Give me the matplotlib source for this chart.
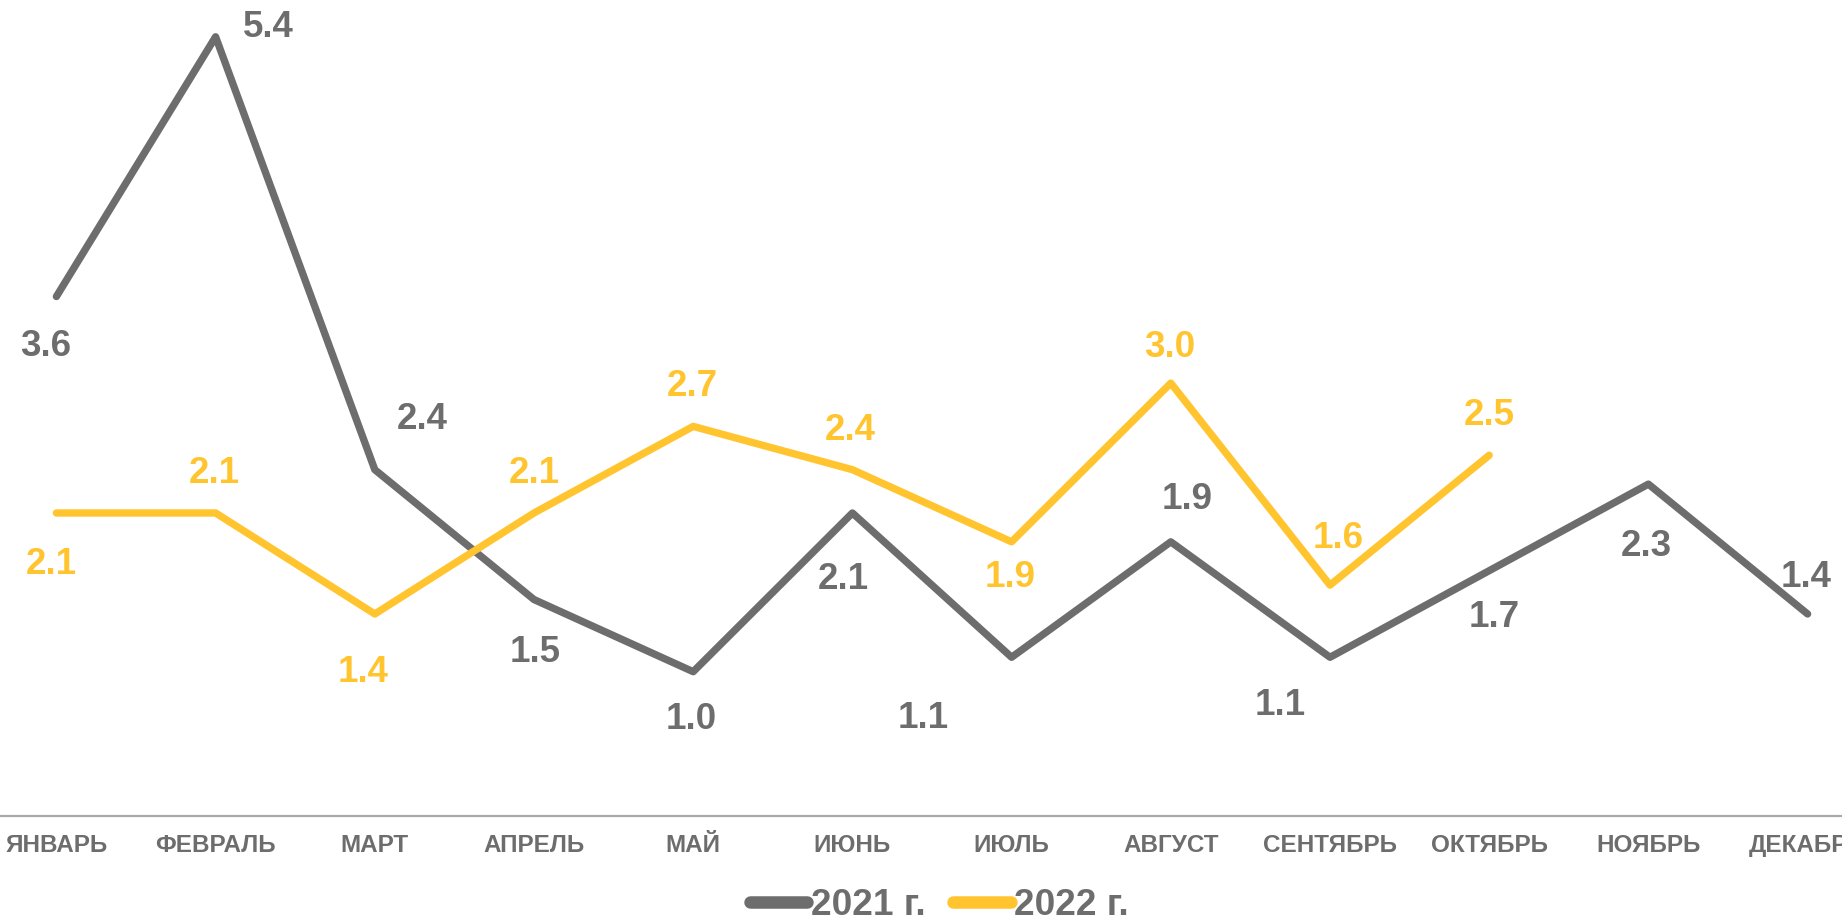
import numpy as np
import matplotlib
matplotlib.use("Agg")
import matplotlib.pyplot as plt
from matplotlib import font_manager

months = ["ЯНВАРЬ", "ФЕВРАЛЬ", "МАРТ", "АПРЕЛЬ", "МАЙ", "ИЮНЬ", "ИЮЛЬ",
          "АВГУСТ", "СЕНТЯБРЬ", "ОКТЯБРЬ", "НОЯБРЬ", "ДЕКАБРЬ"]
values_2021 = [3.6, 5.4, 2.4, 1.5, 1.0, 2.1, 1.1, 1.9, 1.1, 1.7, 2.3, 1.4]
values_2022 = [2.1, 2.1, 1.4, 2.1, 2.7, 2.4, 1.9, 3.0, 1.6, 2.5]
series_names = ["2021 г.", "2022 г."]

# label offsets in pixels (dx, dy)
off_2021 = [(-11, -50), (53, 9), (47, 50), (1, -53), (-2, -48), (-9, -67),
            (-88, -61), (16, 42), (-50, -48), (5, -47), (-2, -62), (-1, 36)]
off_2022 = [(-5, -52), (-1, 39), (-12, -59), (0, 39), (-1, 40), (-2, 39),
            (-1, -36), (-1, 36), (8, 47), (0, 40)]

GRAY = "#6D6D6D"
YELLOW = "#FFC42E"
AXIS = "#A9A9A9"

avail = {f.name for f in font_manager.fontManager.ttflist}
narrow = "Liberation Sans Narrow" if "Liberation Sans Narrow" in avail else "Liberation Sans"
narrow_scale = 1.0 if narrow == "Liberation Sans Narrow" else 0.92

plt.rcParams["font.family"] = ["Liberation Sans", "DejaVu Sans"]

W, H = 1842, 922
fig = plt.figure(figsize=(W / 100, H / 100), dpi=100)

unit = 144.3          # px per value unit
step = 159.2          # px per category
x0_px = 56.4          # center of first category
axis_y = 816          # px from top
ymax = 6.0
left = (x0_px - step / 2) / W
width = 12 * step / W
bottom = (H - axis_y) / H
height = ymax * unit / H
ax = fig.add_axes([left, bottom, width, height])
ax.set_xlim(-0.5, 11.5)
ax.set_ylim(0, ymax)

x = np.arange(len(months))
ax.plot(x, values_2021, color=GRAY, lw=5.3, solid_capstyle="round",
        solid_joinstyle="round", label=series_names[0], zorder=3)
ax.plot(x[:len(values_2022)], values_2022, color=YELLOW, lw=5.3,
        solid_capstyle="round", solid_joinstyle="round", label=series_names[1], zorder=3)

for xi, v, (dx, dy) in zip(x, values_2021, off_2021):
    ax.annotate(f"{v:.1f}", (xi, v), xytext=(dx, dy), textcoords="offset pixels",
                ha="center", va="center", fontsize=26.5, fontweight="bold", color=GRAY,
                annotation_clip=False)
for xi, v, (dx, dy) in zip(x, values_2022, off_2022):
    ax.annotate(f"{v:.1f}", (xi, v), xytext=(dx, dy), textcoords="offset pixels",
                ha="center", va="center", fontsize=26.5, fontweight="bold", color=YELLOW,
                annotation_clip=False)

for s in ["top", "right", "left"]:
    ax.spines[s].set_visible(False)
ax.spines["bottom"].set_color(AXIS)
ax.spines["bottom"].set_linewidth(1.6)
ax.set_yticks([])
ax.set_xticks(x)
ax.set_xticklabels(months, fontsize=19 * narrow_scale, fontweight="bold", color=GRAY,
                   family=[narrow, "DejaVu Sans"])
ax.tick_params(axis="x", length=0, pad=13)

leg = fig.legend(loc="center", bbox_to_anchor=(0.51, 0.018), ncol=2, frameon=False,
                 prop={"family": [narrow, "DejaVu Sans"], "weight": "bold",
                       "size": 29 * narrow_scale},
                 handlelength=1.55, handletextpad=0.1, columnspacing=0.75)
for t in leg.get_texts():
    t.set_color(GRAY)
for h in leg.get_lines():
    h.set_linewidth(9)
    h.set_solid_capstyle("round")

fig.savefig("out.png", dpi=100)
